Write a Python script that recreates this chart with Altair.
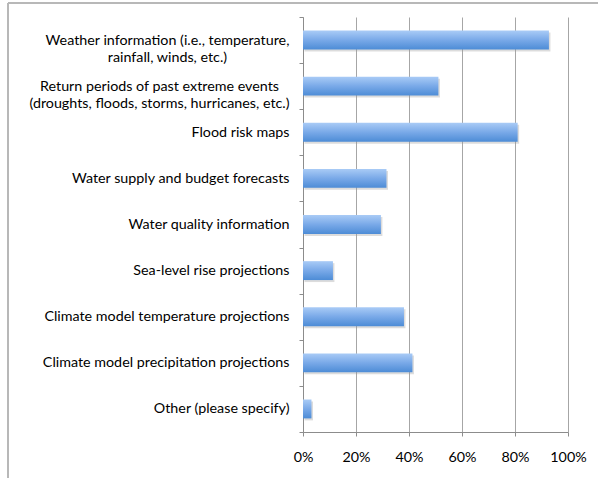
import altair as alt
import pandas as pd

# Survey categories (top to bottom); "|" marks a line break in the axis label
categories = [
    "Weather information (i.e., temperature,|rainfall, winds, etc.)",
    "Return periods of past extreme events|(droughts, floods, storms, hurricanes, etc.)",
    "Flood risk maps",
    "Water supply and budget forecasts",
    "Water quality information",
    "Sea-level rise projections",
    "Climate model temperature projections",
    "Climate model precipitation projections",
    "Other (please specify)",
]
# Share of respondents selecting each item
shares = [0.928, 0.511, 0.810, 0.315, 0.294, 0.113, 0.381, 0.413, 0.032]

x_ticks = [0, 0.2, 0.4, 0.6, 0.8, 1.0]

df = pd.DataFrame({"item": categories, "share": shares})

FONT = "Lato"
FONT_SIZE = 14.3
W, H = 265, 415
LABEL_GAP = 10

# Two-line labels are centred on their widest line (approximate pixel width
# of that line at FONT_SIZE), so the block still ends at the label gap.
wide_line_px = {
    categories[0]: 244,
    categories[1]: 260,
}


def js(s):
    return "'" + s.replace("\\", "\\\\").replace("'", "\\'") + "'"


label_align = {
    "condition": [
        {"test": f"datum.value == {js(c)}", "value": "center"} for c in wide_line_px
    ],
    "value": "right",
}
label_padding = {
    "condition": [
        {"test": f"datum.value == {js(c)}", "value": LABEL_GAP + w / 2}
        for c, w in wide_line_px.items()
    ],
    "value": LABEL_GAP,
}

x_enc = alt.X(
    "share:Q",
    scale=alt.Scale(domain=[0, 1], nice=False),
    axis=alt.Axis(
        values=x_ticks, format=".0%", title=None, grid=True,
        gridColor="#a6a6a6", gridWidth=1, domainColor="#8c8c8c",
        tickColor="#8c8c8c", tickSize=4, labelPadding=14, labelFlush=False,
        labelFont=FONT, labelFontSize=FONT_SIZE, labelColor="#000000",
    ),
)
y_enc = alt.Y(
    "item:N",
    sort=categories,
    scale=alt.Scale(paddingInner=0, paddingOuter=0),
    axis=alt.Axis(
        title=None, grid=False, tickBand="extent",
        domainColor="#8c8c8c", tickColor="#8c8c8c", tickSize=4,
        labelAlign=label_align, labelPadding=label_padding,
        labelFont=FONT, labelFontSize=FONT_SIZE,
        labelColor="#000000", labelLineHeight=17, labelLimit=320,
        labelExpr="isValid(datum.value) ? split(datum.value, '|') : ''",
    ),
)

bar_fill = alt.LinearGradient(
    gradient="linear",
    stops=[
        alt.GradientStop(offset=0, color="#a9cbf6"),
        alt.GradientStop(offset=0.5, color="#79a9e8"),
        alt.GradientStop(offset=1, color="#4d8cd6"),
    ],
    x1=0, x2=0, y1=0, y2=1,
)

shadow = alt.Chart(df).mark_bar(
    height=alt.RelativeBandSize(0.41), color="#9a9a9a", opacity=0.35,
    xOffset=1.5, yOffset=2,
).encode(x=x_enc, y=y_enc)

bars = alt.Chart(df).mark_bar(
    height=alt.RelativeBandSize(0.41), color=bar_fill,
).encode(x=x_enc, y=y_enc)

# Outer chart frame (top and left edges)
frame_top = alt.Chart(df).mark_rule(color="#b8b8b8", strokeWidth=1.5).encode(
    x=alt.value(-295), x2=alt.value(300), y=alt.value(-14)
)
frame_left = alt.Chart(df).mark_rule(color="#b8b8b8", strokeWidth=1.5).encode(
    x=alt.value(-295), y=alt.value(-14), y2=alt.value(480)
)

chart = (
    alt.layer(shadow, bars, frame_top, frame_left)
    .properties(
        width=W, height=H,
        autosize=alt.AutoSizeParams(type="none"),
        padding={"left": 303, "top": 17, "right": 30, "bottom": 46},
        background="#ffffff",
    )
    .configure_view(stroke=None)
)

chart.save("out.html", embed_options={"renderer": "svg", "actions": False})
